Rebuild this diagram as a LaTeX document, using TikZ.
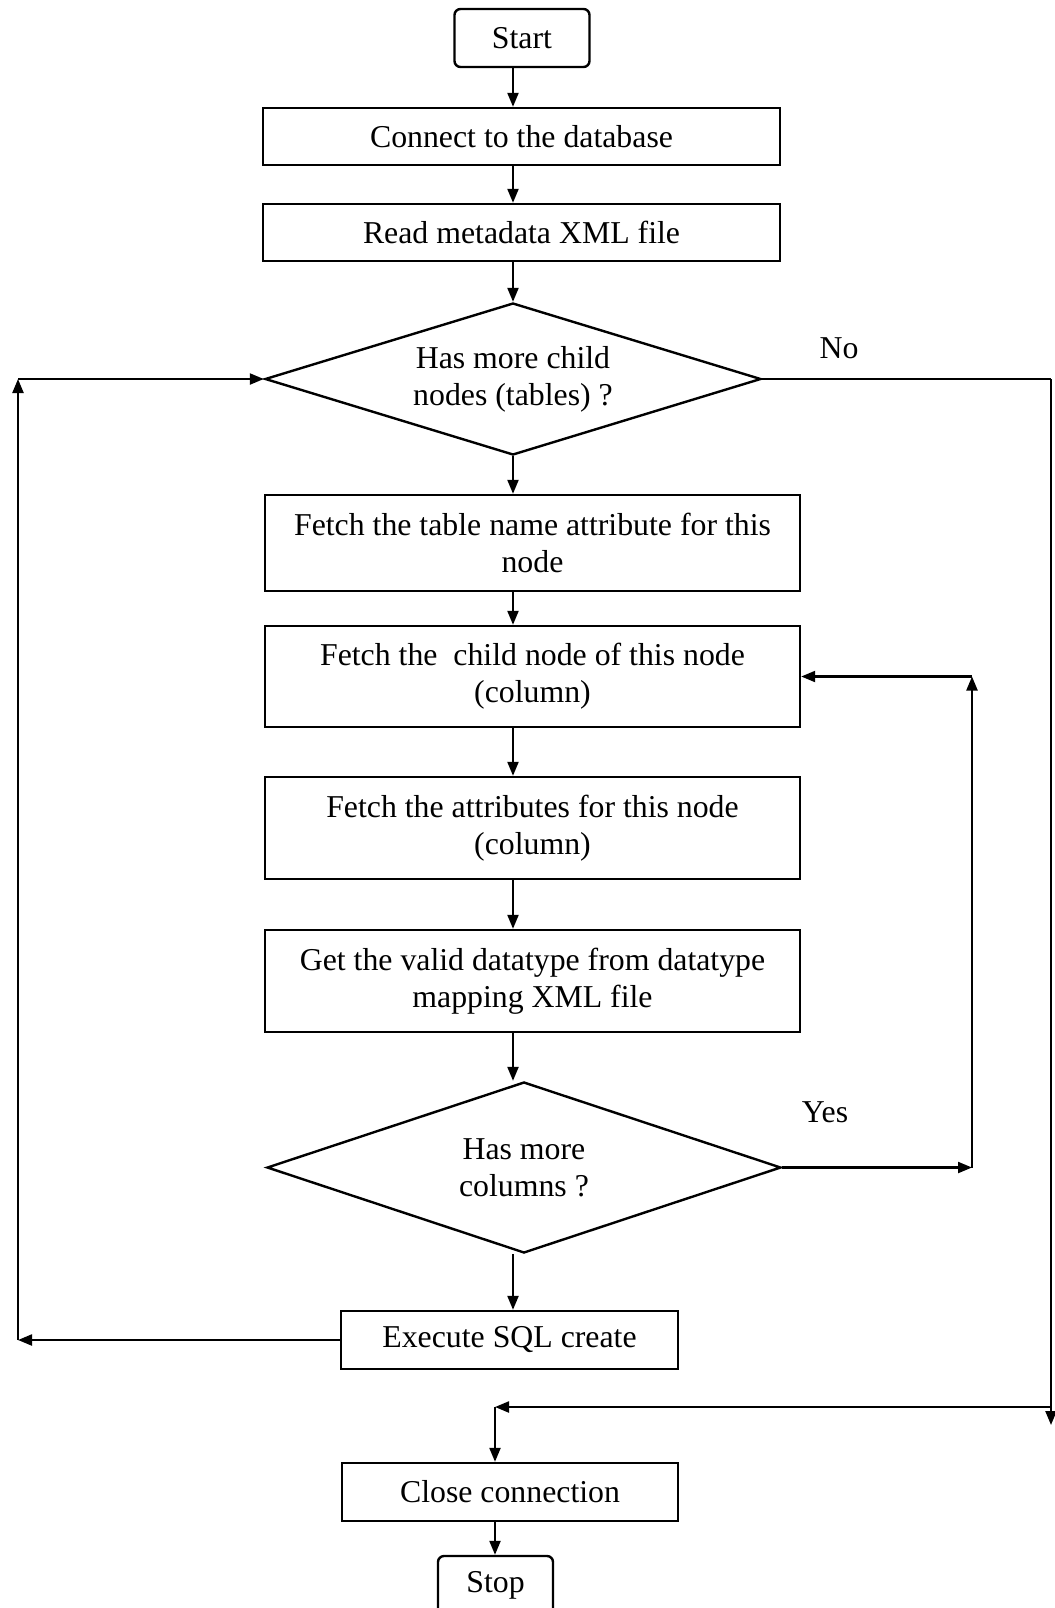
\documentclass[tikz,border=0pt]{standalone}
\usepackage{fontspec}
\setmainfont{Liberation Serif}
\usepackage{tikz}
\usetikzlibrary{shapes.geometric, arrows.meta, positioning, calc}
\tikzset{
  procBox/.style={rectangle, draw=black, line width=1.2pt, align=center,
                  inner sep=2pt, font=\fontsize{15.9}{18.5}\selectfont},
  termBox/.style={procBox, rounded corners=3pt},
  decD/.style={diamond, draw=black, line width=1.2pt, align=center,
               inner sep=0pt, font=\fontsize{15.9}{18.5}\selectfont},
  flow/.style={line width=1.1pt, -{Triangle[length=7pt,width=5.5pt]}},
  plainF/.style={line width=1.1pt},
  lblT/.style={font=\fontsize{15.9}{18.5}\selectfont},
}

\begin{document}
\begin{tikzpicture}[x=0.5pt,y=-0.5pt]
    \useasboundingbox (0,0) rectangle (1055,1608);
    %% main column
    \node[termBox, minimum width=67.5pt, minimum height=29pt] (start) at (522,38) {Start};
    \node[procBox, minimum width=258.5pt, minimum height=28.5pt] (conn) at (521.5,136.5) {Connect to the database};
    \node[procBox, minimum width=258.5pt, minimum height=28.5pt] (readXML) at (521.5,232.5) {Read metadata XML file};
    \node[decD, aspect=3.26, minimum width=248pt, minimum height=76pt] (hasTbl) at (513,379) {Has more child\\nodes (tables) ?};
    \node[procBox, minimum width=267.5pt, minimum height=48pt] (tblName) at (532.5,543) {Fetch the table name attribute for this\\node};
    \node[procBox, minimum width=267.5pt, minimum height=50.5pt] (colNode) at (532.5,676.5) {Fetch the \ child node of this node\\(column)};
    \node[procBox, minimum width=267.5pt, minimum height=51pt] (colAttr) at (532.5,828) {Fetch the attributes for this node\\(column)};
    \node[procBox, minimum width=267.5pt, minimum height=51pt] (dtype) at (532.5,981) {Get the valid datatype from datatype\\mapping XML file};
    \node[decD, aspect=3.0, minimum width=257pt, minimum height=85.5pt] (hasCol) at (524,1167.5) {Has more\\columns ?};
    \node[procBox, minimum width=168.5pt, minimum height=29pt] (sqlExec) at (509.5,1340) {Execute SQL create};
    \node[procBox, minimum width=168pt, minimum height=29pt] (closeC) at (510,1492) {Close connection};
    \node[termBox, minimum width=57.5pt, minimum height=29pt] (stop) at (495.5,1585) {Stop};

    %% helper points
    \coordinate (mainX) at (513,0);
    \coordinate (leftX) at (18,0);
    \coordinate (yesX) at (972,0);
    \coordinate (noX) at (1051,0);
    \coordinate (joinP) at (495,1407);
    \coordinate (noEnd) at (1051,1425);

    %% straight flow
    \draw[flow] (start.south -| mainX) -- (conn.north -| mainX);
    \draw[flow] (conn.south -| mainX) -- (readXML.north -| mainX);
    \draw[flow] (readXML.south -| mainX) -- (hasTbl.north);
    \draw[flow] (hasTbl.south) -- (tblName.north -| mainX);
    \draw[flow] (tblName.south -| mainX) -- (colNode.north -| mainX);
    \draw[flow] (colNode.south -| mainX) -- (colAttr.north -| mainX);
    \draw[flow] (colAttr.south -| mainX) -- (dtype.north -| mainX);
    \draw[flow] (dtype.south -| mainX) -- (hasCol.north -| mainX);
    \draw[flow] (hasCol.south -| mainX) -- (sqlExec.north -| mainX);
    \draw[flow] (closeC.south -| joinP) -- (stop.north -| joinP);

    %% yes loop
    \draw[flow] (hasCol.east) -- (hasCol.east -| yesX);
    \draw[flow] (hasCol.east -| yesX) -- (colNode.east -| yesX);
    \draw[flow] (colNode.east -| yesX) -- (colNode.east);
    \node[lblT] (yesL) at (825,1112) {Yes};

    %% back to table loop
    \draw[flow] (sqlExec.west) -- (sqlExec.west -| leftX);
    \draw[flow] (sqlExec.west -| leftX) -- (hasTbl.west -| leftX);
    \draw[flow] (hasTbl.west -| leftX) -- (hasTbl.west);

    %% no branch
    \draw[plainF] (hasTbl.east) -- (hasTbl.east -| noX);
    \draw[flow] (hasTbl.east -| noX) -- (noEnd);
    \draw[flow] (joinP -| noX) -- (joinP);
    \draw[flow] (joinP) -- (closeC.north -| joinP);
    \node[lblT] (noL) at (839,348) {No};
\end{tikzpicture}
\end{document}
